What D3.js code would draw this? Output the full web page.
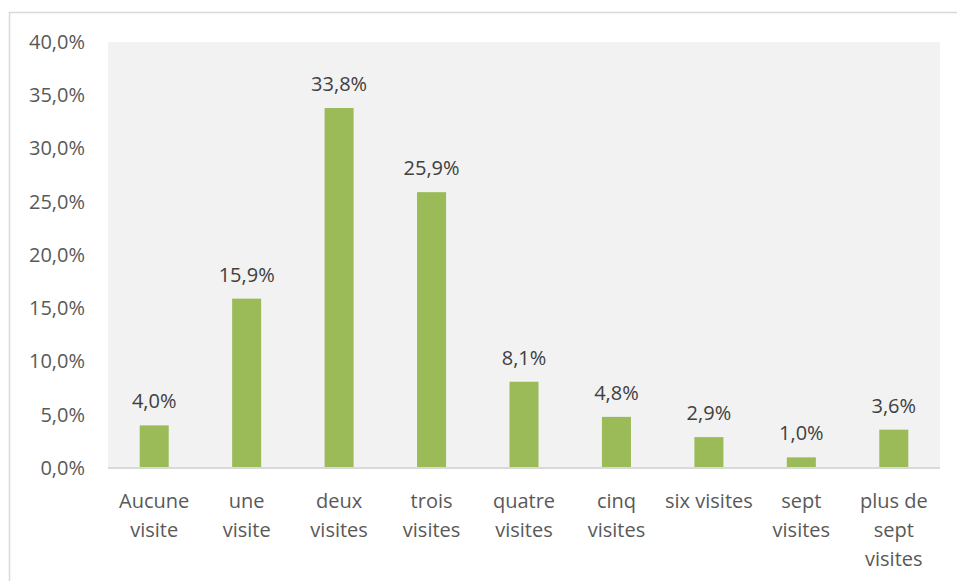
<!DOCTYPE html>
<html>
<head>
<meta charset="utf-8">
<script src="https://cdn.jsdelivr.net/npm/d3@7"></script>
<style>
  html, body { margin: 0; padding: 0; background: #ffffff; }
  svg { display: block; }
  text { font-family: "Open Sans", "Liberation Sans", sans-serif; }
</style>
</head>
<body>
<svg id="chart" width="957" height="581"></svg>
<script>
// Répartition des répondants selon le nombre de visites
const categories = [
  ["Aucune", "visite"],
  ["une", "visite"],
  ["deux", "visites"],
  ["trois", "visites"],
  ["quatre", "visites"],
  ["cinq", "visites"],
  ["six visites"],
  ["sept", "visites"],
  ["plus de", "sept", "visites"]
];
const values = [4.0, 15.9, 33.8, 25.9, 8.1, 4.8, 2.9, 1.0, 3.6];
const yTicks = [0, 5, 10, 15, 20, 25, 30, 35, 40];

const fmt = v => d3.format(".1f")(v).replace(".", ",") + "%";

const svg = d3.select("#chart");
const W = 957, H = 581;
const plot = { left: 108, top: 42, right: 940, bottom: 468 };
const fontSize = "20px";

// outer chart frame
svg.append("rect")
  .attr("x", 9.5).attr("y", 12.5)
  .attr("width", W - 9.5 + 5).attr("height", H)
  .attr("fill", "#ffffff")
  .attr("stroke", "#d9d9d9").attr("stroke-width", 1.5);

// plot background
svg.append("rect")
  .attr("x", plot.left).attr("y", plot.top)
  .attr("width", plot.right - plot.left).attr("height", plot.bottom - plot.top)
  .attr("fill", "#f2f2f2");

const keys = categories.map(c => c.join(" "));
const x = d3.scaleBand().domain(keys).range([plot.left, plot.right]).paddingInner(0.686).paddingOuter(0.343);
const y = d3.scaleLinear().domain([0, 40]).range([plot.bottom, plot.top]);

// y axis labels
const yAxis = d3.axisLeft(y).tickValues(yTicks).tickFormat(fmt).tickSize(0).tickPadding(23);
const yg = svg.append("g").attr("transform", `translate(${plot.left},0)`).call(yAxis);
yg.select(".domain").remove();
yg.selectAll("text").attr("fill", "#595959").style("font-size", fontSize);

// bars
svg.append("g").selectAll("rect").data(values).join("rect")
  .attr("x", (d, i) => x(keys[i]))
  .attr("y", d => y(d))
  .attr("width", x.bandwidth())
  .attr("height", d => y(0) - y(d))
  .attr("fill", "#9bbb59");

// value labels
svg.append("g").selectAll("text").data(values).join("text")
  .attr("x", (d, i) => x(keys[i]) + x.bandwidth() / 2)
  .attr("y", d => y(d) - 17)
  .attr("text-anchor", "middle")
  .attr("fill", "#404040")
  .style("font-size", fontSize)
  .text(fmt);

// x axis line
svg.append("line")
  .attr("x1", plot.left).attr("x2", plot.right)
  .attr("y1", y(0)).attr("y2", y(0))
  .attr("stroke", "#d9d9d9").attr("stroke-width", 2);

// category labels
const xAxis = d3.axisBottom(x).tickSize(0).tickFormat("");
const xg = svg.append("g").attr("transform", `translate(0,${y(0)})`).call(xAxis);
xg.select(".domain").remove();
xg.selectAll(".tick").each(function(d, i) {
  const t = d3.select(this).append("text")
    .attr("text-anchor", "middle")
    .attr("fill", "#595959")
    .style("font-size", fontSize);
  categories[i].forEach((line, j) => {
    t.append("tspan").attr("x", 0).attr("y", 40 + j * 29).text(line);
  });
});
</script>
</body>
</html>
